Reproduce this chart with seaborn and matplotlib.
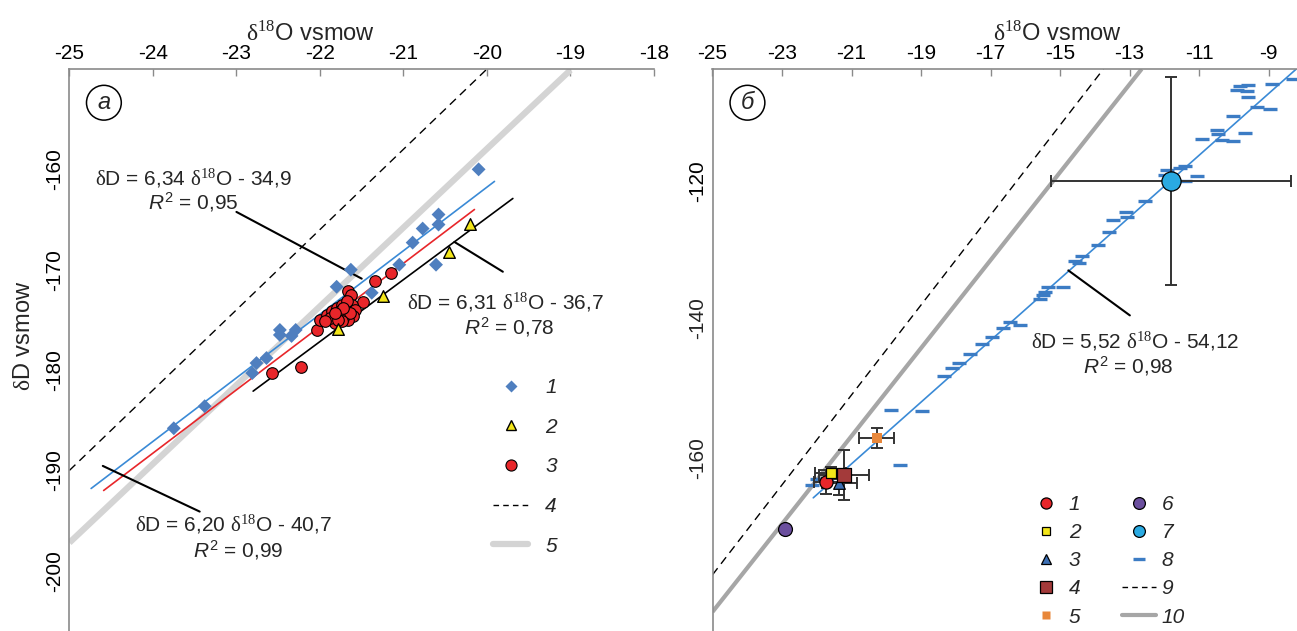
import matplotlib
matplotlib.use("Agg")
import matplotlib.pyplot as plt
from matplotlib.lines import Line2D
import seaborn as sns

# ---------------- panel a (left) ----------------
a_g1_o = [-20.10, -20.58, -20.58, -20.77, -20.89, -21.05, -20.61, -21.63, -21.80, -21.38,
          -22.48, -22.48, -22.29, -22.34, -22.64, -22.76, -22.81, -23.38, -23.75]
a_g1_d = [-160.0, -164.5, -165.5, -165.9, -167.3, -169.5, -169.5, -170.0, -171.7, -172.3,
          -176.0, -176.5, -176.0, -176.6, -178.8, -179.3, -180.3, -183.6, -185.8]

a_g2_o = [-20.20, -20.45, -21.25, -21.78]
a_g2_d = [-165.4, -168.2, -172.65, -175.9]

a_g3_o = [-21.15, -21.34, -21.66, -21.63, -21.49, -22.04, -22.58, -22.23,
          -22.00, -21.92, -21.86, -21.80, -21.74, -21.68, -21.62, -21.58, -21.60, -21.66,
          -21.72, -21.78, -21.84, -21.76, -21.70, -21.64, -21.82, -21.74, -21.88, -21.94,
          -21.68, -21.72, -21.78, -21.82]
a_g3_d = [-170.3, -171.1, -172.15, -172.5, -173.2, -176.0, -180.3, -179.7,
          -174.97, -174.47, -174.14, -173.81, -173.48, -173.64, -173.48, -173.97, -174.63, -174.97,
          -174.80, -174.63, -174.97, -174.14, -174.30, -174.30, -175.30, -175.13, -174.80, -175.13,
          -173.14, -173.81, -174.97, -174.30]

a_gmwl_o, a_gmwl_d = [-25.0, -20.0], [-190.0, -150.0]
a_lmwl_o, a_lmwl_d = [-25.0, -19.0], [-197.2, -150.1]
a_fit1_o, a_fit1_d = [-24.74, -19.91], [-191.8, -161.2]
a_fit3_o, a_fit3_d = [-24.59, -20.15], [-192.0, -164.0]
a_fit2_o, a_fit2_d = [-22.80, -19.69], [-182.1, -162.9]

a_xticks = [-25, -24, -23, -22, -21, -20, -19, -18]
a_yticks = [-160, -170, -180, -190, -200]

# ---------------- panel b (right) ----------------
b_pts_o = [-21.73, -21.60, -21.35, -21.21, -20.27, -22.90, -11.80]
b_pts_d = [-173.5, -171.9, -173.6, -172.3, -165.7, -181.8, -120.0]
b_xerr = [0.35, 0.45, 0.50, 0.72, 0.50, 0.0, 3.45]
b_yerr = [2.1, 1.0, 2.2, 4.45, 1.8, 0.0, 18.5]

b_g8_o = [-9.82, -9.58, -9.92, -9.63, -8.91, -8.29, -9.58, -9.34, -8.96, -10.01,
          -10.49, -10.44, -9.68, -10.92, -10.35, -10.01, -11.40, -11.55, -11.93, -11.98,
          -11.07, -11.40, -12.55, -13.10, -13.08, -13.47, -13.58, -13.92, -14.38, -14.57,
          -14.44, -15.34, -15.43, -15.48, -15.58, -14.90, -16.44, -16.15, -16.63,
          -16.95, -17.25, -17.60, -17.90, -18.10, -18.35,
          -19.86, -18.98, -19.60, -22.00, -22.15]
b_g8_d = [-103.0, -102.8, -103.8, -104.0, -102.6, -101.7, -105.0, -106.8, -107.1, -108.3,
          -110.9, -111.5, -111.3, -112.5, -112.7, -112.9, -117.2, -117.7, -118.0, -118.8,
          -119.0, -120.0, -123.4, -125.4, -126.3, -126.9, -129.0, -131.4, -133.3, -134.1,
          -134.5, -138.8, -139.6, -140.3, -141.0, -138.8, -145.0, -145.6, -146.1,
          -147.6, -149.0, -150.8, -152.3, -153.2, -154.6,
          -160.6, -160.9, -170.5, -173.0, -174.0]

b_gmwl_o, b_gmwl_d = [-25.0, -13.75], [-190.0, -100.0]
b_lmwl_o, b_lmwl_d = [-25.0, -12.65], [-196.6, -100.0]
b_fit_o, b_fit_d = [-22.10, -8.20], [-176.3, -100.0]

b_xticks = [-25, -23, -21, -19, -17, -15, -13, -11, -9]
b_yticks = [-120, -140, -160, -180]
b_yticklabels = ["-120", "", "", ""]
b_ylabels = ["-140", "-160"]
b_ylabel_pos = [-144.4, -169.2]

# ---------------- style ----------------
sns.set_theme(style="white")
plt.rcParams["font.family"] = ["Liberation Sans", "DejaVu Sans"]
plt.rcParams["mathtext.fontset"] = "custom"
plt.rcParams["mathtext.rm"] = "Liberation Serif"
plt.rcParams["mathtext.it"] = "Liberation Sans:italic"
plt.rcParams["mathtext.sf"] = "Liberation Sans"

W, H = 1297, 631
fig = plt.figure(figsize=(W / 100, H / 100), dpi=100)
ax1 = fig.add_axes([69.4 / W, 0, 584.6 / W, 562 / H])
ax2 = fig.add_axes([712.5 / W, 0, 584.5 / W, 562 / H])

SPINE = "#8a8a8a"


def style_axes(ax):
    for s in ["right", "bottom"]:
        ax.spines[s].set_visible(False)
    for s in ["top", "left"]:
        ax.spines[s].set_color(SPINE)
        ax.spines[s].set_linewidth(1.2)
    ax.xaxis.tick_top()
    ax.xaxis.set_label_position("top")
    ax.tick_params(direction="in", length=5, width=1, color=SPINE, labelsize=15,
                   labelcolor="black", pad=4)
    ax.grid(False)


# ---------------- panel a ----------------
ax = ax1
ax.plot(a_lmwl_o, a_lmwl_d, color="#d4d4d4", lw=4.5, solid_capstyle="butt", zorder=1)
ax.plot(a_gmwl_o, a_gmwl_d, color="black", lw=1, ls=(0, (6, 4)), zorder=1)
ax.plot(a_fit1_o, a_fit1_d, color="#3a8ad6", lw=1.2, zorder=2)
ax.plot(a_fit3_o, a_fit3_d, color="#e8262a", lw=1.2, zorder=2)
ax.plot(a_fit2_o, a_fit2_d, color="black", lw=1.2, zorder=2)

sns.scatterplot(x=a_g1_o, y=a_g1_d, ax=ax, marker="D", s=50, color="#4f7fbf",
                edgecolor="none", zorder=3)
sns.scatterplot(x=a_g3_o, y=a_g3_d, ax=ax, marker="o", s=70, color="#e8262a",
                edgecolor="black", linewidth=0.8, zorder=4)
sns.scatterplot(x=a_g2_o, y=a_g2_d, ax=ax, marker="^", s=70, color="#f3e619",
                edgecolor="black", linewidth=1.0, zorder=5)

ax.set_xlim(-25, -18)
ax.set_ylim(-206, -150)
style_axes(ax)
ax.set_xticks(a_xticks, [str(t) for t in a_xticks])
ax.set_yticks(a_yticks, [str(t) for t in a_yticks], rotation=90, va="center")
ax.set_xlabel(r"$\mathrm{\delta}^{18}$O vsmow", fontsize=17)
ax.xaxis.set_label_coords(0.413, 1.064)
ax.xaxis.label.set_va("center")
ax.set_ylabel(r"$\mathrm{\delta}$D vsmow", fontsize=17)
ax.yaxis.set_label_coords(-0.078, 0.525)
ax.yaxis.label.set_va("center")

ax.text(0.059, 0.94, "a", transform=ax.transAxes, fontsize=17, style="italic",
        ha="center", va="center",
        bbox=dict(boxstyle="circle,pad=0.25", fc="white", ec="black", lw=1.1))

# equations
ax.text(-23.51, -160.9, r"$\mathrm{\delta}$D = 6,34 $\mathrm{\delta}^{18}$O - 34,9",
        fontsize=15, ha="center", va="center")
ax.text(-23.52, -163.3, r"$\mathit{R}^{\mathsf{2}}$ = 0,95", fontsize=15, ha="center", va="center")
ax.plot([-23.0, -21.50], [-164.24, -170.89], color="black", lw=1.5)

ax.text(-19.78, -173.2, r"$\mathrm{\delta}$D = 6,31 $\mathrm{\delta}^{18}$O - 36,7",
        fontsize=15, ha="center", va="center")
ax.text(-19.73, -175.7, r"$\mathit{R}^{\mathsf{2}}$ = 0,78", fontsize=15, ha="center", va="center")
ax.plot([-20.39, -19.81], [-167.23, -170.2], color="black", lw=1.5)

ax.text(-23.04, -195.3, r"$\mathrm{\delta}$D = 6,20 $\mathrm{\delta}^{18}$O - 40,7",
        fontsize=15, ha="center", va="center")
ax.text(-22.98, -197.9, r"$\mathit{R}^{\mathsf{2}}$ = 0,99", fontsize=15, ha="center", va="center")
ax.plot([-24.60, -23.44], [-189.55, -194.1], color="black", lw=1.5)

handles_a = [
    Line2D([], [], ls="none", marker="D", ms=6, color="#4f7fbf", mec="none"),
    Line2D([], [], ls="none", marker="^", ms=7, color="#f3e619", mec="black", mew=1),
    Line2D([], [], ls="none", marker="o", ms=8, color="#e8262a", mec="black", mew=0.8),
    Line2D([], [], color="black", lw=1, ls=(0, (4, 3))),
    Line2D([], [], color="#d4d4d4", lw=4.5),
]
ax.legend(handles_a, ["1", "2", "3", "4", "5"], loc="upper left",
          bbox_to_anchor=(0.7246, 0.450), frameon=False, borderpad=0,
          borderaxespad=0, handlelength=1.7, handletextpad=0.8, labelspacing=0.99,
          prop={"size": 15, "style": "italic"})

# ---------------- panel b ----------------
ax = ax2
ax.plot(b_lmwl_o, b_lmwl_d, color="#a6a6a6", lw=3, solid_capstyle="butt", zorder=1)
ax.plot(b_gmwl_o, b_gmwl_d, color="black", lw=1, ls=(0, (6, 4)), zorder=1)
ax.plot(b_fit_o, b_fit_d, color="#3a8ad6", lw=1.2, zorder=2)

sns.scatterplot(x=b_g8_o, y=b_g8_d, ax=ax, marker="_", s=90, linewidth=2.4,
                color="#3c7cc4", zorder=3)

ax.errorbar(b_pts_o, b_pts_d, xerr=b_xerr, yerr=b_yerr, fmt="none", ecolor="#333333",
            elinewidth=1.4, capsize=4, capthick=1.4, zorder=4)

b_colors = ["#e8262a", "#f3e619", "#3c6fb4", "#a33a3a", "#e8873a", "#6b4f9e", "#2aaae2"]
b_markers = ["o", "s", "^", "s", "s", "o", "o"]
b_sizes = [90, 50, 70, 110, 55, 100, 190]
b_edges = ["black", "black", "black", "black", "none", "black", "black"]
for i in range(len(b_pts_o)):
    sns.scatterplot(x=[b_pts_o[i]], y=[b_pts_d[i]], ax=ax, marker=b_markers[i], s=b_sizes[i],
                    color=b_colors[i], edgecolor=b_edges[i], linewidth=0.9, zorder=5)

ax.set_xlim(-25, -8.18)
ax.set_ylim(-200, -100)
style_axes(ax)
ax.set_xticks(b_xticks, [str(t) for t in b_xticks])
ax.set_yticks(b_yticks, b_yticklabels, rotation=90, va="center")
ax.set_yticks(b_ylabel_pos, b_ylabels, minor=True, rotation=90, va="center")
ax.tick_params(axis="y", which="minor", length=0, labelsize=15, pad=4)
ax.set_xlabel(r"$\mathrm{\delta}^{18}$O vsmow", fontsize=17)
ax.xaxis.set_label_coords(0.591, 1.064)
ax.xaxis.label.set_va("center")

ax.text(0.0598, 0.94, "б", transform=ax.transAxes, fontsize=17, style="italic",
        ha="center", va="center",
        bbox=dict(boxstyle="circle,pad=0.25", fc="white", ec="black", lw=1.1))

ax.text(-12.84, -148.35, r"$\mathrm{\delta}$D = 5,52 $\mathrm{\delta}^{18}$O - 54,12",
        fontsize=15, ha="center", va="center")
ax.text(-13.04, -152.8, r"$\mathit{R}^{\mathsf{2}}$ = 0,98", fontsize=15, ha="center", va="center")
ax.plot([-14.76, -12.99], [-135.84, -143.84], color="black", lw=1.5)

handles_b = [
    Line2D([], [], ls="none", marker="o", ms=8, color="#e8262a", mec="black", mew=0.9),
    Line2D([], [], ls="none", marker="s", ms=6, color="#f3e619", mec="black", mew=0.9),
    Line2D([], [], ls="none", marker="^", ms=7, color="#3c6fb4", mec="black", mew=0.9),
    Line2D([], [], ls="none", marker="s", ms=8, color="#a33a3a", mec="black", mew=0.9),
    Line2D([], [], ls="none", marker="s", ms=6, color="#e8873a", mec="none"),
    Line2D([], [], ls="none", marker="o", ms=8.5, color="#6b4f9e", mec="black", mew=0.9),
    Line2D([], [], ls="none", marker="o", ms=8.5, color="#2aaae2", mec="black", mew=0.9),
    Line2D([], [], ls="none", marker="_", ms=8, mew=2.4, color="#3c7cc4"),
    Line2D([], [], color="black", lw=1, ls=(0, (4, 3))),
    Line2D([], [], color="#a6a6a6", lw=3),
]
ax.legend(handles_b, [str(i) for i in range(1, 11)], loc="upper left", ncols=2,
          bbox_to_anchor=(0.542, 0.242), frameon=False, borderpad=0, borderaxespad=0,
          handlelength=1.6, handletextpad=0.3, labelspacing=0.44, columnspacing=2.0,
          prop={"size": 15, "style": "italic"})

fig.savefig("out.png", dpi=100)
